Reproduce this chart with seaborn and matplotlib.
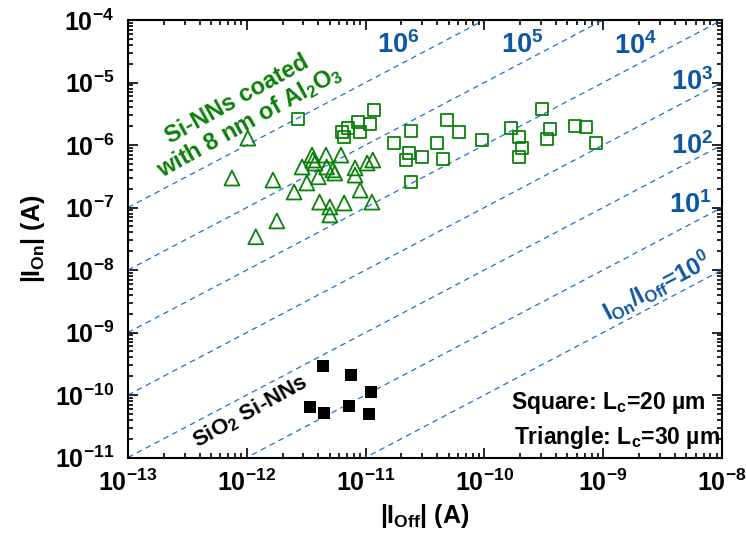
import numpy as np
import matplotlib.pyplot as plt
import seaborn as sns

# coated Si-NNs, Lc = 20 um (open squares)
sq_off = [2.7e-12, 1.18e-11, 8.6e-12, 1.09e-11, 7.1e-12, 6.3e-12, 9.0e-12, 6.6e-12,
          2.4e-11, 1.73e-11, 4.8e-11, 6.1e-11, 4.0e-11, 2.3e-11, 2.2e-11, 3.0e-11,
          4.5e-11, 2.4e-11, 9.5e-11, 3.05e-10, 1.68e-10, 1.95e-10, 3.56e-10, 3.36e-10,
          2.07e-10, 1.95e-10, 5.8e-10, 7.2e-10, 8.7e-10]
sq_on = [2.6e-6, 3.6e-6, 2.3e-6, 2.2e-6, 1.87e-6, 1.6e-6, 1.6e-6, 1.34e-6,
         1.67e-6, 1.08e-6, 2.5e-6, 1.6e-6, 1.08e-6, 7.4e-7, 5.8e-7, 6.4e-7,
         6.0e-7, 2.6e-7, 1.2e-6, 3.8e-6, 1.87e-6, 1.34e-6, 1.8e-6, 1.25e-6,
         9.0e-7, 6.4e-7, 2.0e-6, 1.94e-6, 1.08e-6]

# coated Si-NNs, Lc = 30 um (open triangles)
tri_off = [1.02e-12, 7.5e-13, 1.66e-12, 1.79e-12, 1.19e-12, 3.54e-12, 4.64e-12, 6.2e-12,
           1.15e-11, 1.03e-11, 2.92e-12, 3.75e-12, 3.6e-12, 5.3e-12, 5.5e-12, 4.7e-12,
           8.15e-12, 8.15e-12, 4.0e-12, 3.2e-12, 2.5e-12, 9.0e-12, 4.1e-12, 5.0e-12,
           6.6e-12, 1.13e-11, 5.0e-12]
tri_on = [1.29e-6, 2.96e-7, 2.75e-7, 6.1e-8, 3.4e-8, 6.9e-7, 6.9e-7, 6.9e-7,
          5.75e-7, 5.15e-7, 4.45e-7, 5.15e-7, 5.75e-7, 4.0e-7, 3.56e-7, 4.45e-7,
          4.3e-7, 3.3e-7, 3.1e-7, 2.47e-7, 1.77e-7, 1.9e-7, 1.22e-7, 1.02e-7,
          1.18e-7, 1.22e-7, 7.6e-8]

# SiO2 Si-NNs (filled squares)
sio_off = [4.4e-12, 7.5e-12, 1.11e-11, 3.4e-12, 4.5e-12, 7.2e-12, 1.07e-11]
sio_on = [2.9e-10, 2.1e-10, 1.12e-10, 6.4e-11, 5.15e-11, 6.7e-11, 5.0e-11]

# constant on/off ratio guide lines
ratios = [1e0, 1e1, 1e2, 1e3, 1e4, 1e5, 1e6]
ratio_labels = ['$\\mathdefault{10^{1}}$', '$\\mathdefault{10^{2}}$', '$\\mathdefault{10^{3}}$',
                '$\\mathdefault{10^{4}}$', '$\\mathdefault{10^{5}}$', '$\\mathdefault{10^{6}}$']
ratio_label_pos = [(0.946, 0.577), (0.949, 0.712), (0.949, 0.858),
                   (0.855, 0.941), (0.663, 0.943), (0.4545, 0.943)]

xlim = [1e-13, 1e-8]
ylim = [1e-11, 1e-4]

sns.set_style('ticks')
plt.rcParams['font.family'] = ['Liberation Sans', 'DejaVu Sans']
plt.rcParams['font.weight'] = 'bold'
plt.rcParams['mathtext.fontset'] = 'custom'
plt.rcParams['mathtext.rm'] = 'Liberation Sans:bold'
plt.rcParams['mathtext.it'] = 'Liberation Sans:bold'
plt.rcParams['mathtext.bf'] = 'Liberation Sans:bold'
plt.rcParams['text.color'] = 'black'
plt.rcParams['axes.labelcolor'] = 'black'
plt.rcParams['axes.edgecolor'] = 'black'
plt.rcParams['xtick.color'] = 'black'
plt.rcParams['ytick.color'] = 'black'

GREEN = '#0a800a'
BLUE = '#0d56a6'
LINE_BLUE = '#2070cc'

fig = plt.figure(figsize=(7.46, 5.47), dpi=100)
ax = fig.add_axes([0.1716, 0.1636, 0.7962, 0.7998])
ax.set_xscale('log')
ax.set_yscale('log')

xs = np.array(xlim)
for r in ratios:
    ax.plot(xs, r * xs, color=LINE_BLUE, lw=0.9, dashes=(4.5, 3.5), zorder=1)

sns.scatterplot(x=sq_off, y=sq_on, marker='s', s=75, fc='none', ec=GREEN,
                linewidth=1.3, ax=ax, zorder=3)
sns.scatterplot(x=tri_off, y=tri_on, marker='^', s=115, fc='none', ec=GREEN,
                linewidth=1.3, ax=ax, zorder=3)
sns.scatterplot(x=sio_off, y=sio_on, marker='s', s=75, color='black',
                linewidth=0, ax=ax, zorder=3)

ax.set_xlim(xlim)
ax.set_ylim(ylim)

for spine in ax.spines.values():
    spine.set_linewidth(1.5)
    spine.set_color('black')
    spine.set_visible(True)
ax.tick_params(which='both', direction='in', top=True, right=True, width=1.2,
               color='black', labelcolor='black')
ax.tick_params(which='major', length=7, labelsize=18)
ax.tick_params(which='minor', length=3.5)
ax.tick_params(axis='x', which='major', pad=9)
ax.tick_params(axis='y', which='major', pad=10)
ax.xaxis.set_major_locator(plt.LogLocator(base=10, numticks=10))
ax.yaxis.set_major_locator(plt.LogLocator(base=10, numticks=10))
ax.xaxis.set_minor_locator(plt.LogLocator(base=10, subs=np.arange(2, 10), numticks=20))
ax.yaxis.set_minor_locator(plt.LogLocator(base=10, subs=np.arange(2, 10), numticks=20))
ax.xaxis.set_minor_formatter(plt.NullFormatter())
ax.yaxis.set_minor_formatter(plt.NullFormatter())
for lab in ax.get_xticklabels() + ax.get_yticklabels():
    lab.set_fontweight('bold')

ax.set_xlabel('$|I_{Off}|$ (A)', fontsize=18, fontweight='bold', labelpad=4)
ax.set_ylabel('$|I_{On}|$ (A)', fontsize=18, fontweight='bold', labelpad=6)

# ratio labels
for lab, (px, py) in zip(ratio_labels, ratio_label_pos):
    ax.text(px, py, lab, transform=ax.transAxes, color=BLUE, fontsize=19.5,
            fontweight='bold', ha='center', va='center')
ax.text(0.891, 0.39, '$I_{On}/I_{Off}$=$\\mathdefault{10^{0}}$', transform=ax.transAxes,
        color=BLUE, fontsize=17, fontweight='bold', ha='center', va='center',
        rotation=27.7, rotation_mode='anchor')

ax.text(0.194, 0.792, 'Si-NNs coated\nwith 8 nm of Al$_2$O$_3$', transform=ax.transAxes,
        color=GREEN, fontsize=17, fontweight='bold', ha='center', va='center',
        rotation=29, rotation_mode='anchor', linespacing=1.05)
ax.text(0.205, 0.104, 'SiO$_2$ Si-NNs', transform=ax.transAxes, color='black',
        fontsize=16, fontweight='bold', ha='center', va='center',
        rotation=29, rotation_mode='anchor')

ax.text(0.973, 0.111, 'Square: L$_c$=20 µm', transform=ax.transAxes, fontsize=16.5,
        fontweight='bold', ha='right', va='baseline')
ax.text(0.997, 0.031, 'Triangle: L$_c$=30 µm', transform=ax.transAxes, fontsize=16.5,
        fontweight='bold', ha='right', va='baseline')

plt.savefig('out.png', dpi=100)
